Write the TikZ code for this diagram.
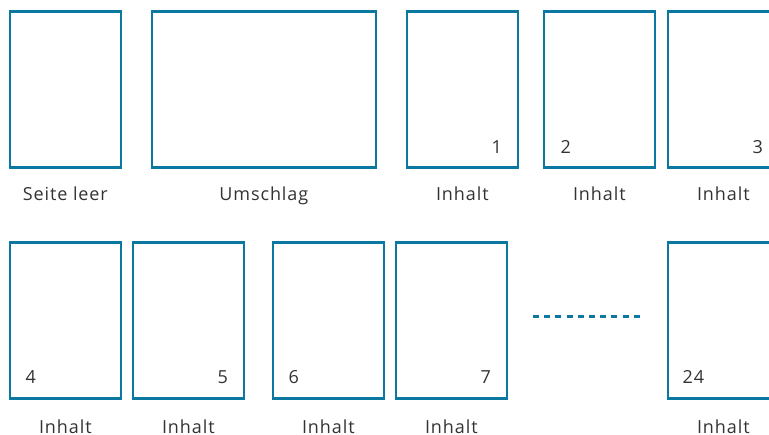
\documentclass[tikz,border=0pt]{standalone}
\usepackage{fontspec}
\setmainfont{Open Sans}[LetterSpace=5]
\definecolor{pg}{HTML}{0A78A0}
\definecolor{txt}{HTML}{333333}
\begin{document}
\begin{tikzpicture}[x=1pt,y=-1pt,
  page/.style={draw=pg,line width=2.7pt,inner sep=0pt,minimum width=111pt,minimum height=156pt,anchor=north west},
  wide/.style={page,minimum width=224pt},
  lab/.style={font=\fontsize{18}{21}\selectfont,text=txt,anchor=base,inner sep=0pt},
  num/.style={font=\fontsize{18}{21}\selectfont,text=txt,inner sep=0pt},
  lnum/.style={num,anchor=base west},
  rnum/.style={num,anchor=base east},
  dots/.style={draw=pg,line width=3pt,dash pattern=on 6pt off 5.2pt}]
\clip (0,0) rectangle (769,435);
% top row
\node[page] (p0) at (8.5,10.5) {};
\node[wide] (u) at (150.5,10.5) {};
\node[page] (p1) at (405.5,10.5) {};
\node[page] (p2) at (542.5,10.5) {};
\node[page] (p3) at (666.5,10.5) {};
% bottom row
\node[page] (p4) at (8.5,241.5) {};
\node[page] (p5) at (131.5,241.5) {};
\node[page] (p6) at (271.5,241.5) {};
\node[page] (p7) at (394.5,241.5) {};
\node[page] (p24) at (666.5,241.5) {};
% labels
\node[lab] (l0) at ([yshift=-31pt]p0.south) {Seite leer};
\node[lab] (lu) at ([yshift=-31pt]u.south) {Umschlag};
\node[lab] (l1) at ([yshift=-31pt]p1.south) {Inhalt};
\node[lab] (l2) at ([yshift=-31pt]p2.south) {Inhalt};
\node[lab] (l3) at ([yshift=-31pt]p3.south) {Inhalt};
\node[lab] (l4) at ([yshift=-33pt]p4.south) {Inhalt};
\node[lab] (l5) at ([yshift=-33pt]p5.south) {Inhalt};
\node[lab] (l6) at ([yshift=-33pt]p6.south) {Inhalt};
\node[lab] (l7) at ([yshift=-33pt]p7.south) {Inhalt};
\node[lab] (l24) at ([yshift=-33pt]p24.south) {Inhalt};
% page numbers
\node[rnum] (n1) at ([xshift=-17pt,yshift=16pt]p1.south east) {1};
\node[lnum] (n2) at ([xshift=18pt,yshift=16pt]p2.south west) {2};
\node[rnum] (n3) at ([xshift=-17pt,yshift=16pt]p3.south east) {3};
\node[lnum] (n4) at ([xshift=17pt,yshift=17pt]p4.south west) {4};
\node[rnum] (n5) at ([xshift=-17pt,yshift=17pt]p5.south east) {5};
\node[lnum] (n6) at ([xshift=17pt,yshift=17pt]p6.south west) {6};
\node[rnum] (n7) at ([xshift=-17pt,yshift=17pt]p7.south east) {7};
\node[lnum] (n24) at ([xshift=16pt,yshift=17pt]p24.south west) {24};
% ellipsis
\coordinate (d1) at (533,317);
\coordinate (d2) at (640,317);
\draw[dots] (d1) -- (d2);
\end{tikzpicture}
\end{document}
